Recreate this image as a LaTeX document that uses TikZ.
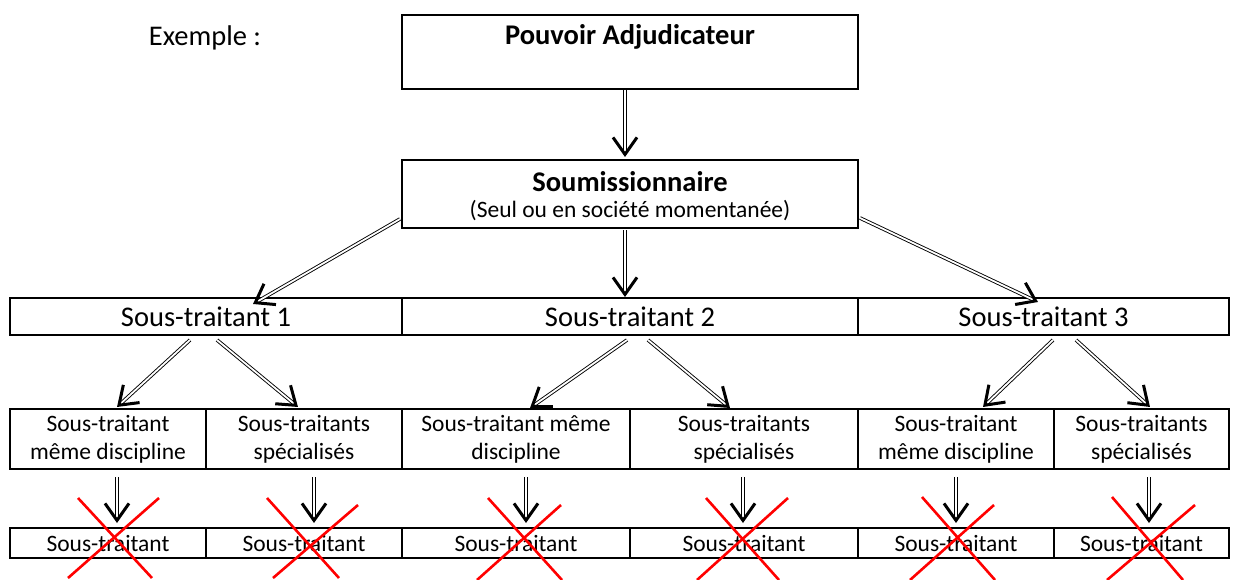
\documentclass[tikz,border=0pt]{standalone}
\usepackage{fontspec}
\setmainfont{Carlito}
\usetikzlibrary{arrows.meta,decorations.markings}
\begin{document}
\begin{tikzpicture}[x=1pt,y=-1pt,
  box/.style={draw, line width=1.8pt, inner sep=0pt},
  bigtxt/.style={font=\fontsize{28.5}{34}\selectfont, inner sep=0pt},
  boldtxt/.style={font=\fontsize{28.5}{34}\selectfont\bfseries, inner sep=0pt},
  smalltxt/.style={font=\fontsize{23.5}{28}\selectfont, align=center, inner sep=0pt},
  shaft/.style={draw, line width=0.9pt, double=white, double distance=1.8pt, shorten >=4pt},
  tipm/.style={decorate, decoration={markings, mark=at position 1 with {\arrow[line width=3pt]{Straight Barb[length=17pt,width=24pt]}}}},
  xline/.style={draw=red, line width=2.6pt},
]
\clip (0,0) rectangle (1239,580);
\fill[white] (0,0) rectangle (1239,580);

% Title
\node[bigtxt] (ex) at (205,38) {Exemple :};

% Level 1
\node[box, minimum width=456pt, minimum height=74pt] (pa) at (630,52) {};
\node[boldtxt] (patxt) at (630,37) {Pouvoir Adjudicateur};

% Level 2
\node[box, minimum width=456pt, minimum height=68pt] (so) at (630,194) {};
\node[boldtxt] (sotxt) at (630,182) {Soumissionnaire};
\node[smalltxt] (sosub) at (630,211) {(Seul ou en société momentanée)};

% Level 3
\node[box, minimum width=392pt, minimum height=37pt] (st1) at (206,316.5) {};
\node[box, minimum width=456pt, minimum height=37pt] (st2) at (630,316.5) {};
\node[box, minimum width=371pt, minimum height=37pt] (st3) at (1043.5,316.5) {};
\node[bigtxt] at (st1) {Sous-traitant 1};
\node[bigtxt] at (st2) {Sous-traitant 2};
\node[bigtxt] at (st3) {Sous-traitant 3};

% Level 4
\node[box, minimum width=196pt, minimum height=60pt] (c1) at (108,439) {};
\node[box, minimum width=196pt, minimum height=60pt] (c2) at (304,439) {};
\node[box, minimum width=228pt, minimum height=60pt] (c3) at (516,439) {};
\node[box, minimum width=228pt, minimum height=60pt] (c4) at (744,439) {};
\node[box, minimum width=196pt, minimum height=60pt] (c5) at (956,439) {};
\node[box, minimum width=175pt, minimum height=60pt] (c6) at (1141.5,439) {};
\node[smalltxt] at (c1) {Sous-traitant\\même discipline};
\node[smalltxt] at (c2) {Sous-traitants\\spécialisés};
\node[smalltxt] at (c3) {Sous-traitant même\\discipline};
\node[smalltxt] at (c4) {Sous-traitants\\spécialisés};
\node[smalltxt] at (c5) {Sous-traitant\\même discipline};
\node[smalltxt] at (c6) {Sous-traitants\\spécialisés};

% Level 5
\node[box, minimum width=196pt, minimum height=30pt] (d1) at (108,543) {};
\node[box, minimum width=196pt, minimum height=30pt] (d2) at (304,543) {};
\node[box, minimum width=228pt, minimum height=30pt] (d3) at (516,543) {};
\node[box, minimum width=228pt, minimum height=30pt] (d4) at (744,543) {};
\node[box, minimum width=196pt, minimum height=30pt] (d5) at (956,543) {};
\node[box, minimum width=175pt, minimum height=30pt] (d6) at (1141.5,543) {};
\foreach \n in {d1,d2,d3,d4,d5,d6}{\node[smalltxt] at (\n) {Sous-traitant};}

% connector end points
\coordinate (pa0) at (625,90);   \coordinate (so0) at (625,157);
\coordinate (soL) at (400,219);  \coordinate (st1i) at (253,304);
\coordinate (soM) at (625,230);  \coordinate (st2i) at (625,297);
\coordinate (soR) at (860,218);  \coordinate (st3i) at (1038,302);
\coordinate (a1) at (190,340) ;  \coordinate (c1i) at (117,407);
\coordinate (a2) at (217,340) ;  \coordinate (c2i) at (298,407);
\coordinate (a3) at (627,340) ;  \coordinate (c3i) at (530,408);
\coordinate (a4) at (648,340) ;  \coordinate (c4i) at (730,408);
\coordinate (a5) at (1053,340);  \coordinate (c5i) at (983,407);
\coordinate (a6) at (1076,340);  \coordinate (c6i) at (1150,407);
\foreach \i/\x in {1/117,2/314,3/526,4/743,5/956,6/1149}{
  \coordinate (b\i) at (\x,477); \coordinate (d\i i) at (\x,523);}

\foreach \s/\t in {pa0/so0,soL/st1i,soM/st2i,soR/st3i,a1/c1i,a2/c2i,a3/c3i,a4/c4i,a5/c5i,a6/c6i,b1/d1i,b2/d2i,b3/d3i,b4/d4i,b5/d5i,b6/d6i}{
  \draw[shaft] (\s) -- (\t);
  \path[tipm] (\s) -- (\t);
}

% red crosses
\draw[xline] (78,498) -- (152,578) (159,498) -- (68,578);
\draw[xline] (267,498) -- (339,578) (358,505) -- (273,578);
\draw[xline] (488,498) -- (562,580) (561,505) -- (477,580);
\draw[xline] (706,498) -- (779,580) (788,498) -- (697,580);
\draw[xline] (922,497) -- (995,580) (994,505) -- (910,580);
\draw[xline] (1112,497) -- (1183,580) (1195,505) -- (1107,580);
\end{tikzpicture}
\end{document}
